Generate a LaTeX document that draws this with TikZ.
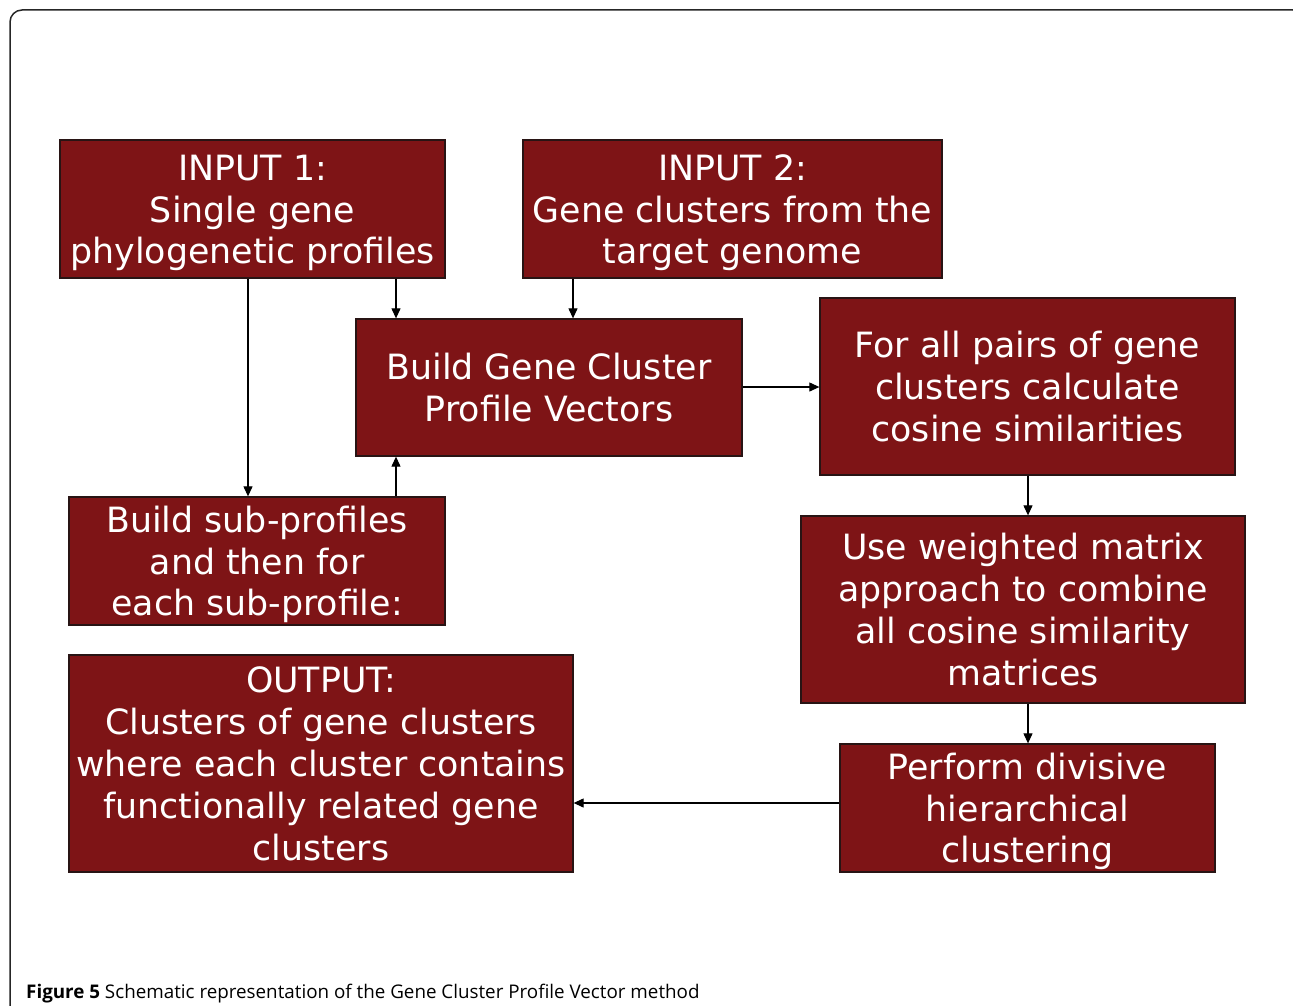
\documentclass[tikz,border=0pt]{standalone}
\usepackage{fontspec}
\setmainfont{DejaVu Sans}
\newfontfamily\capfont{Open Sans}
\usetikzlibrary{arrows.meta}
\definecolor{boxred}{RGB}{126,20,22}
\definecolor{boxedge}{RGB}{40,20,20}
\newcommand\lnstrut{\rule[-9pt]{0pt}{44pt}}
\setlength{\lineskiplimit}{-60pt}
\tikzset{
  flowbox/.style={draw=boxedge, line width=1.3pt, fill=boxred, text=white, align=center,
    inner sep=0pt, font=\fontsize{34.8}{41.8}\selectfont},
  conn/.style={line width=1.1pt, draw=black, -{Triangle[length=10pt,width=9pt]}}
}
\begin{document}
\begin{tikzpicture}[x=1pt,y=-1pt]
\path[use as bounding box, clip] (0,0) rectangle (1293,1006);
\fill[white] (0,0) rectangle (1293,1006);
\draw[line width=1.5pt, rounded corners=12pt, draw=black!85] (10,10) rectangle (1305,1030);

\node[flowbox, minimum width=385pt, minimum height=138pt] (in1) at (252.5,209) {\lnstrut INPUT 1:\\Single gene\\phylogenetic profiles\lnstrut};
\node[flowbox, minimum width=419pt, minimum height=138pt] (in2) at (732.5,209) {\lnstrut INPUT 2:\\Gene clusters from the\\target genome\lnstrut};
\node[flowbox, minimum width=386pt, minimum height=137pt] (build) at (549,387.5) {\lnstrut Build Gene Cluster\\Profile Vectors\lnstrut};
\node[flowbox, minimum width=415pt, minimum height=177pt] (pairs) at (1027.5,386.5) {\lnstrut For all pairs of gene\\clusters calculate\\cosine similarities\lnstrut};
\node[flowbox, minimum width=376pt, minimum height=128pt] (sub) at (257,561) {\lnstrut Build sub-profiles\\and then for\\each sub-profile:\lnstrut};
\node[flowbox, minimum width=444pt, minimum height=187pt] (weight) at (1023,609.5) {\lnstrut Use weighted matrix\\approach to combine\\all cosine similarity\\matrices\lnstrut};
\node[flowbox, minimum width=504pt, minimum height=217pt] (out) at (321,763.5) {\lnstrut OUTPUT:\\Clusters of gene clusters\\where each cluster contains\\functionally related gene\\clusters\lnstrut};
\node[flowbox, minimum width=375pt, minimum height=128pt] (div) at (1027.5,808) {\lnstrut Perform divisive\\hierarchical\\clustering\lnstrut};

\coordinate (xa) at (248,0);
\coordinate (xb) at (396,0);
\coordinate (xc) at (573,0);
\coordinate (xd) at (1028,0);
\coordinate (yb) at (0,387);
\coordinate (yo) at (0,803);

\draw[conn] (xa |- in1.south) -- (xa |- sub.north);
\draw[conn] (xb |- in1.south) -- (xb |- build.north);
\draw[conn] (xc |- in2.south) -- (xc |- build.north);
\draw[conn] (xb |- sub.north) -- (xb |- build.south);
\draw[conn] (build.east |- yb) -- (pairs.west |- yb);
\draw[conn] (xd |- pairs.south) -- (xd |- weight.north);
\draw[conn] (xd |- weight.south) -- (xd |- div.north);
\draw[conn] (div.west |- yo) -- (out.east |- yo);

\node[anchor=base west, inner sep=0pt, font=\capfont\fontsize{18.8}{22}\selectfont] (cap) at (26,998)
  {\textbf{Figure 5} Schematic representation of the Gene Cluster Profile Vector method};
\end{tikzpicture}
\end{document}
